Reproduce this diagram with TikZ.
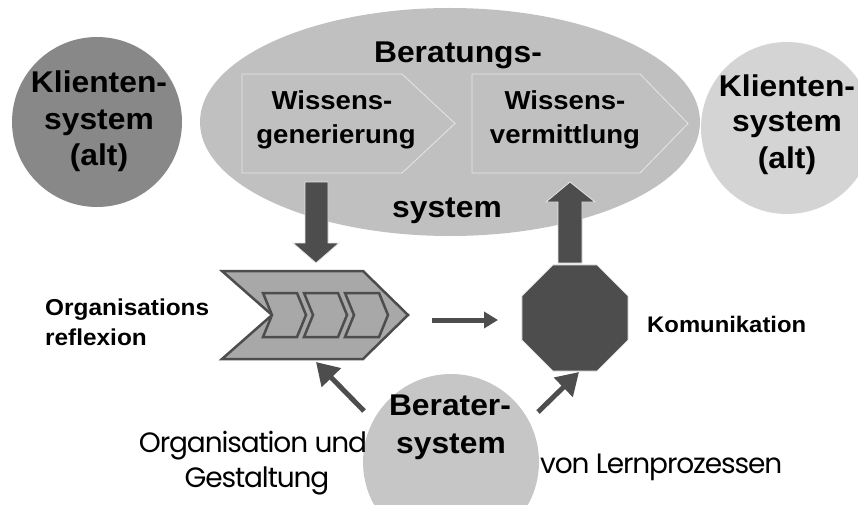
\documentclass[tikz,border=0pt]{standalone}
\usepackage{fontspec}
\setmainfont{Liberation Sans}[FakeStretch=1.06]
\newfontfamily\gothic{Poppins}[LetterSpace=-4]
\usetikzlibrary{shapes.geometric,arrows.meta}
\definecolor{dk}{HTML}{4D4D4D}
\definecolor{ellgray}{HTML}{C0C0C0}
\definecolor{leftgray}{HTML}{888888}
\definecolor{rightgray}{HTML}{D4D4D4}
\definecolor{bergray}{HTML}{C6C6C6}
\definecolor{chevgray}{HTML}{A8A8A8}
\definecolor{edge}{HTML}{E6E6E6}
\begin{document}
\begin{tikzpicture}[x=1pt,y=-1pt,
  big/.style={font=\bfseries\fontsize{30}{36}\selectfont, inner sep=0pt, anchor=base},
  mid/.style={font=\bfseries\fontsize{26}{32}\selectfont, inner sep=0pt, anchor=base},
  small/.style={font=\bfseries\fontsize{22.5}{28}\selectfont, inner sep=0pt, anchor=base west},
  thin/.style={font=\gothic\fontsize{28}{32}\selectfont, inner sep=0pt, anchor=base},
  blob/.style={circle, inner sep=0pt, minimum size=#1},
  blockarrow/.style={fill=dk, draw=edge, line width=0.8pt},
  arr/.style={draw=dk, line width=5pt, -{Triangle[length=22pt,width=26pt]}},
  harr/.style={draw=dk, line width=5pt, -{Triangle[length=14pt,width=16pt]}},
  chevbox/.style={fill=chevgray, draw=dk, line width=2.5pt, line join=miter},
  pent/.style={draw=edge, line width=0.8pt}
]
\useasboundingbox (0,0) rectangle (858,505);

% circles and ellipse
\node[blob=170, fill=leftgray] (kl) at (97,122) {};
\node[blob=172, fill=rightgray] (kr) at (787,128) {};
\node[ellipse, fill=ellgray, inner sep=0pt, minimum width=500, minimum height=228] (bs) at (450,122) {};
\node[blob=176, fill=bergray] (ber) at (451,462) {};

% pentagons inside the ellipse
\draw[pent] (242,74) -- (402,74) -- (455,123.5) -- (402,173) -- (242,173) -- cycle;
\draw[pent] (472,74) -- (640,74) -- (688,123.5) -- (640,173) -- (472,173) -- cycle;

% chevron
\draw[chevbox] (222,271) -- (363,271) -- (408,315) -- (363,359) -- (222,359) -- (272,315) -- cycle;
\foreach \x in {263,304,345}{
  \draw[chevbox] (\x,293) -- (\x+34,293) -- (\x+43,315) -- (\x+34,337) -- (\x,337) -- (\x+9,315) -- cycle;
}
\coordinate (chevtip) at (408,315);
\coordinate (chevbot) at (316,362);

% octagon
\node[regular polygon, regular polygon sides=8, minimum size=115, inner sep=0pt, fill=dk, draw=edge, line width=0.8pt] (oct) at (575,318) {};

% block arrows
\draw[blockarrow] (305,182) -- (328,182) -- (328,243) -- (339,243) -- (316,263) -- (293,243) -- (305,243) -- cycle;
\draw[blockarrow] (558,263) -- (582,263) -- (582,202) -- (595,202) -- (570,182) -- (546,202) -- (558,202) -- cycle;

% thin arrows
\coordinate (h1) at (432,320);
\coordinate (h2) at (498,320);
\draw[harr] (h1) -- (h2);
\coordinate (a1) at (364,411);
\coordinate (a2) at (538,412);
\coordinate (octbot) at (579,372);
\draw[arr] (a1) -- (chevbot);
\draw[arr] (a2) -- (octbot);

% texts
\node[big] (kl1) at (99,93) {Klienten-};
\node[big] (kl2) at (99,130) {system};
\node[big] (kl3) at (99,165) {(alt)};
\node[big] (kr1) at (787,97) {Klienten-};
\node[big] (kr2) at (787,132) {system};
\node[big] (kr3) at (787,168) {(alt)};
\node[big] (bs1) at (458,63) {Beratungs-};
\node[big] (bs2) at (447,217) {system};
\node[mid] (w1) at (332,110) {Wissens-};
\node[mid] (w2) at (336,144) {generierung};
\node[mid] (v1) at (565,110) {Wissens-};
\node[mid] (v2) at (565,144) {vermittlung};
\node[small, font=\bfseries\fontsize{23}{28}\selectfont] (or1) at (45,315) {Organisations};
\node[small, font=\bfseries\fontsize{23}{28}\selectfont] (or2) at (45,345) {reflexion};
\node[small] (kom) at (647,332) {Komunikation};
\node[big] (be1) at (450,415) {Berater-};
\node[big] (be2) at (451,453) {system};
\node[thin] (og1) at (253,452) {Organisation und};
\node[thin] (og2) at (257,487) {Gestaltung};
\node[thin, anchor=base west] (vl) at (540,473) {von Lernprozessen};
\end{tikzpicture}
\end{document}
